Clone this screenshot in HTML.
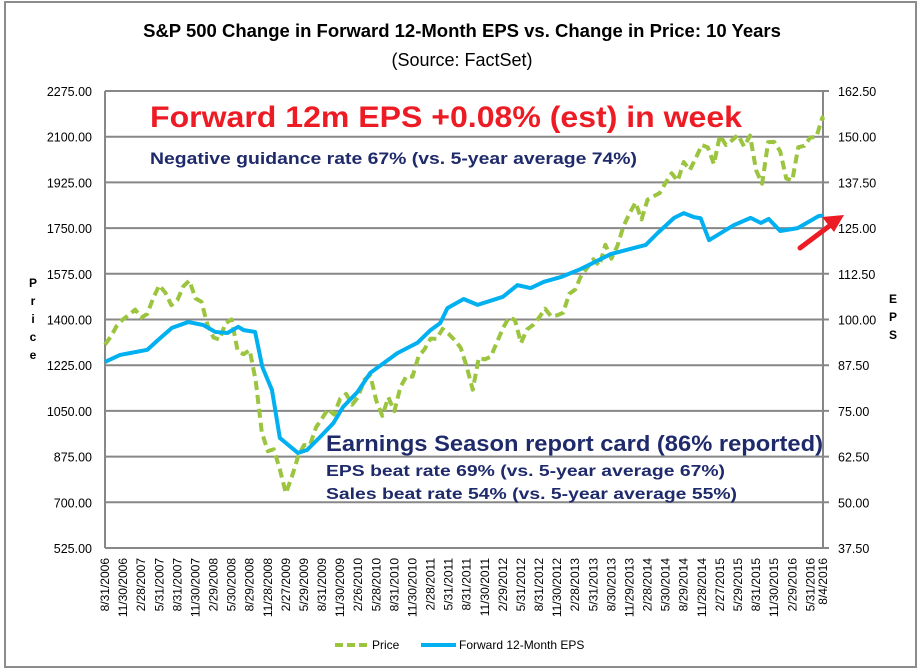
<!DOCTYPE html>
<html><head><meta charset="utf-8"><style>
html,body{margin:0;padding:0;background:#fff;}
svg{display:block;font-family:"Liberation Sans",sans-serif;}
</style></head><body>
<svg id="chart" width="920" height="671" viewBox="0 0 920 671" xmlns="http://www.w3.org/2000/svg">
<rect x="5" y="2" width="911" height="665" fill="#fff" stroke="#8c8c8c" stroke-width="2"/>
<text x="462" y="37" text-anchor="middle" font-size="18.5" font-weight="bold" fill="#000">S&amp;P 500 Change in Forward 12-Month EPS vs. Change in Price: 10 Years</text>
<text x="462" y="66" text-anchor="middle" font-size="18" fill="#000">(Source: FactSet)</text>
<g id="grid"></g>
<g id="series"></g>
<text x="150" y="127" font-size="30" font-weight="bold" fill="#ed1c24" textLength="592" lengthAdjust="spacingAndGlyphs">Forward 12m EPS +0.08% (est) in week</text>
<text x="150" y="164" font-size="17" font-weight="bold" fill="#1f2a6b" textLength="487" lengthAdjust="spacingAndGlyphs">Negative guidance rate 67% (vs. 5-year average 74%)</text>
<text x="326" y="451" font-size="22" font-weight="bold" fill="#1f2a6b" textLength="497" lengthAdjust="spacingAndGlyphs">Earnings Season report card (86% reported)</text>
<text x="326" y="476" font-size="16" font-weight="bold" fill="#1f2a6b" textLength="399" lengthAdjust="spacingAndGlyphs">EPS beat rate 69% (vs. 5-year average 67%)</text>
<text x="326" y="499" font-size="16" font-weight="bold" fill="#1f2a6b" textLength="411" lengthAdjust="spacingAndGlyphs">Sales beat rate 54% (vs. 5-year average 55%)</text>
<g>
<line x1="800" y1="248" x2="832" y2="224" stroke="#ed1c24" stroke-width="5" stroke-linecap="round"/>
<polygon points="844,215 822,217 834,232" fill="#ed1c24"/>
</g>
<g font-size="12" font-weight="bold" fill="#000" text-anchor="middle">
<text x="33" y="287">P</text><text x="33" y="305">r</text><text x="33" y="323">i</text><text x="33" y="341">c</text><text x="33" y="359">e</text>
</g>
<g font-size="12" font-weight="bold" fill="#000" text-anchor="middle">
<text x="893" y="303">E</text><text x="893" y="321">P</text><text x="893" y="339">S</text>
</g>
<g font-size="12" fill="#000">
<g>
<line x1="335" y1="645" x2="368" y2="645" stroke="#9bc43f" stroke-width="4" stroke-dasharray="8,4"/>
<text x="372" y="649">Price</text></g>
<g>
<line x1="421" y1="645" x2="456" y2="645" stroke="#00b0f0" stroke-width="4"/>
<text x="459" y="649">Forward 12-Month EPS</text></g>
</g>
</svg>
<script>
// ---- data ----
const priceValues = [1304,1336,1378,1401,1418,1438,1407,1421,1482,1531,1503,1455,1474,1527,1549,1481,1468,1379,1331,1323,1386,1400,1280,1267,1283,1166,969,896,903,826,735,798,873,919,919,987,1021,1057,1036,1096,1115,1074,1104,1169,1187,1089,1031,1102,1049,1141,1183,1181,1258,1286,1327,1326,1364,1345,1321,1292,1219,1131,1253,1247,1258,1312,1366,1408,1398,1310,1362,1379,1407,1441,1412,1416,1426,1498,1515,1569,1598,1631,1606,1686,1633,1682,1757,1806,1848,1783,1859,1872,1884,1924,1960,1931,2003,1972,2018,2068,2059,1995,2105,2068,2086,2107,2063,2104,1972,1920,2079,2080,2044,1940,1932,2060,2065,2097,2099,2174,2164];
const epsMonths = [0,2.5,7,8.8,11.1,13.8,16.3,18.3,20.3,22.1,23,24.9,26.1,27.7,29,32,33.5,35.7,37.9,39.5,41.9,44,48.5,51.8,54,55.6,56.8,59.5,61.8,66,68.4,70.6,72.8,75.6,78.9,83.9,89.7,91.7,94.4,96,97.7,98.8,100.2,104.3,107.1,108.8,110.1,112,114.9,118.4,119.1];
const epsValues = [88.4,90.3,91.7,94.4,97.7,99.3,98.5,96.6,96.3,98,97.1,96.6,87,80.7,67.6,63.5,64.3,67.9,71.7,76.1,80.2,85.4,90.8,93.6,97.1,99,103.1,105.6,104,106.2,109.4,108.6,110.3,111.6,113.8,117.9,120.4,123.7,127.8,129.1,128,127.7,121.7,125.8,127.8,126.4,127.5,124.2,125,128.3,128.4];
const leftTicks = [2275,2100,1925,1750,1575,1400,1225,1050,875,700,525];
const rightTicks = [162.5,150,137.5,125,112.5,100,87.5,75,62.5,50,37.5];
const dateLabels = ["8/31/2006","11/30/2006","2/28/2007","5/31/2007","8/31/2007","11/30/2007","2/29/2008","5/30/2008","8/29/2008","11/28/2008","2/27/2009","5/29/2009","8/31/2009","11/30/2009","2/26/2010","5/28/2010","8/31/2010","11/30/2010","2/28/2011","5/31/2011","8/31/2011","11/30/2011","2/29/2012","5/31/2012","8/31/2012","11/30/2012","2/28/2013","5/31/2013","8/30/2013","11/29/2013","2/28/2014","5/30/2014","8/29/2014","11/28/2014","2/27/2015","5/29/2015","8/31/2015","11/30/2015","2/29/2016","5/31/2016","8/4/2016"];

// ---- axes ----
const X0=105, X1=823, Y0=91, Y1=548, MAXM=119.1;
const xm = m => X0 + m/MAXM*(X1-X0);
const yP = v => Y0 + (2275-v)/(2275-525)*(Y1-Y0);
const yE = v => Y0 + (162.5-v)/(162.5-37.5)*(Y1-Y0);
const NS="http://www.w3.org/2000/svg";
function mk(tag, attrs, parent){const e=document.createElementNS(NS,tag);for(const k in attrs)e.setAttribute(k,attrs[k]);parent.appendChild(e);return e;}
const grid=document.getElementById('grid'), series=document.getElementById('series');

leftTicks.forEach((v,i)=>{
  const y=yP(v);
  const g=mk('line',{x1:X0,y1:y,x2:X1+6,y2:y,stroke:'#878787','stroke-width':2},grid);
  
  
  const t=mk('text',{x:92,y:y+5,'text-anchor':'end','font-size':12.5,fill:'#000'},grid);
  t.textContent=v.toFixed(2);
  
  
});
rightTicks.forEach(v=>{
  const y=yE(v);
  const t=mk('text',{x:838,y:y+5,'font-size':12.5,fill:'#000'},grid);
  t.textContent=v.toFixed(2);
  
  
});
const la=mk('line',{x1:X0,y1:Y0,x2:X0,y2:Y1,stroke:'#878787','stroke-width':2},grid);


const ra=mk('line',{x1:X1,y1:Y0,x2:X1,y2:Y1,stroke:'#878787','stroke-width':2},grid);



dateLabels.forEach((d,i)=>{
  const m = i<40 ? i*3 : MAXM;
  const x = xm(m)+4;
  const t=mk('text',{x:0,y:0,'font-size':12,fill:'#000','text-anchor':'end',transform:`translate(${x},558) rotate(-90)`},grid);
  t.textContent=d;
  
  
});

// ---- series ----
const pPts = priceValues.map((v,i)=>[xm(i===priceValues.length-1?MAXM:i), yP(v)]);
const pl=mk('polyline',{points:pPts.map(p=>p.join(',')).join(' '),fill:'none',stroke:'#9bc43f','stroke-width':4,'stroke-dasharray':'9,5','stroke-linejoin':'round'},series);


const ePts = epsValues.map((v,i)=>[xm(epsMonths[i]), yE(v)]);
const el=mk('polyline',{points:ePts.map(p=>p.join(',')).join(' '),fill:'none',stroke:'#00b0f0','stroke-width':4,'stroke-linejoin':'round'},series);


</script>
</body></html>
